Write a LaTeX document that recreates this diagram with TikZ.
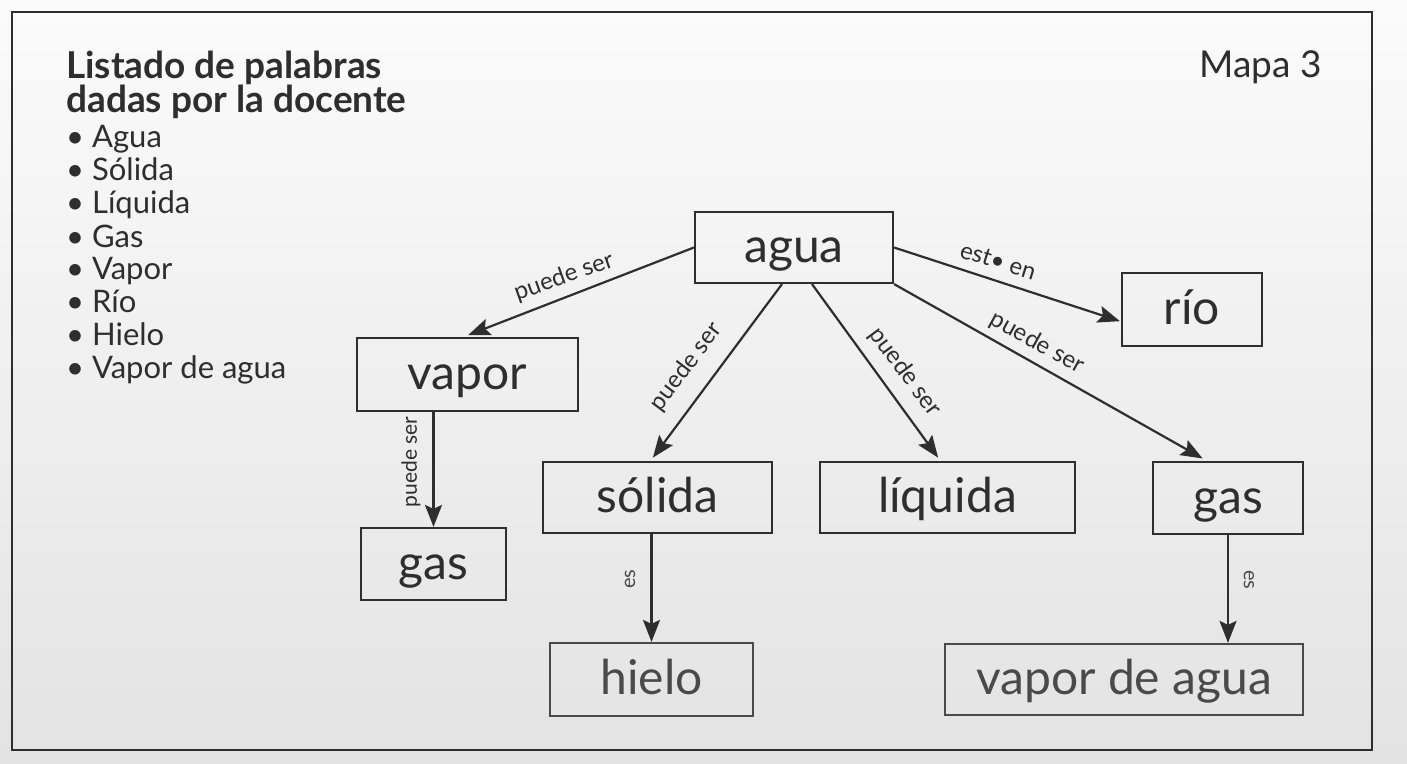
\documentclass[tikz,border=0pt]{standalone}
\usepackage{fontspec}
\setmainfont{Lato}
\usetikzlibrary{arrows.meta,calc}
\definecolor{ink}{HTML}{2E2E2E}
\definecolor{inkb}{HTML}{4A4A4A}
\begin{document}
\begin{tikzpicture}[x=1pt,y=-1pt,
  box/.style={draw=ink,line width=2.2pt,inner sep=0pt,text=ink,
    font=\fontsize{48}{52}\selectfont,text height=30pt,text depth=0pt},
  boxb/.style={box,draw=inkb,text=inkb},
  arr/.style={draw=ink,line width=2.2pt,-{Stealth[length=22pt,width=17pt,inset=4pt]}},
  lab/.style={font=\fontsize{24}{26}\selectfont,text=ink,inner sep=0pt},
  small/.style={font=\fontsize{20}{22}\selectfont,text=inkb,inner sep=0pt},
  head/.style={anchor=base west,inner sep=0pt,text=ink,font=\bfseries\fontsize{37}{39}\selectfont},
  item/.style={anchor=base west,inner sep=0pt,text=ink,font=\fontsize{31}{33}\selectfont}]
\shade[top color=gray!3,bottom color=gray!22] (0,0) rectangle (1407,763);
\useasboundingbox (0,0) rectangle (1407,763);
\draw[ink,line width=2.2pt] (12,12) rectangle (1372,750);

% word list
\node[head] (t1) at (66,78) {Listado de palabras};
\node[head] (t2) at (66,112) {dadas por la docente};
\node[item] (i1) at (66,147) {• Agua};
\node[item] (i2) at (66,180) {• Sólida};
\node[item] (i3) at (66,213) {• Líquida};
\node[item] (i4) at (66,247) {• Gas};
\node[item] (i5) at (66,279) {• Vapor};
\node[item] (i6) at (66,312) {• Río};
\node[item] (i7) at (66,345) {• Hielo};
\node[item] (i8) at (66,378) {• Vapor de agua};
\node[anchor=base west,inner sep=0pt,text=ink,font=\fontsize{37}{39}\selectfont] (mapa) at (1199,77) {Mapa 3};

% boxes
\node[box,minimum width=198pt,minimum height=71pt] (agua) at (794,247.5) {agua};
\node[box,minimum width=140pt,minimum height=73pt] (rio) at (1192,309.5) {río};
\node[box,minimum width=221pt,minimum height=73pt] (vapor) at (467.5,374.5) {vapor};
\node[box,minimum width=229pt,minimum height=71pt] (solida) at (657.5,497.5) {sólida};
\node[box,minimum width=255pt,minimum height=71pt] (liquida) at (947.5,497.5) {líquida};
\node[box,minimum width=150pt,minimum height=72pt] (gasR) at (1228,498) {gas};
\node[box,minimum width=145pt,minimum height=72pt] (gasL) at (433.5,564) {gas};
\node[boxb,minimum width=203pt,minimum height=73pt] (hielo) at (651.5,679.5) {hielo};
\node[boxb,minimum width=358pt,minimum height=71pt] (vda) at (1124,679.5) {vapor de agua};

% connectors
\draw[arr,shorten >=5pt] (agua.west) -- ([xshift=-4pt]vapor.north);
\draw[arr,shorten >=4pt] ([xshift=-12pt]agua.south) -- ([xshift=-7pt]solida.north);
\draw[arr,shorten >=4pt] ([xshift=18pt]agua.south) -- ([xshift=-7pt]liquida.north);
\draw[arr,shorten >=5pt] (agua.south east) -- ([xshift=-21pt]gasR.north);
\draw[arr,shorten >=1pt] (agua.east) -- ([yshift=-12pt]rio.west);
\draw[arr] (gasL.north |- vapor.south) -- (gasL.north);
\draw[arr] (hielo.north |- solida.south) -- (hielo.north);
\draw[arr] (gasR.south) -- (gasR.south |- vda.north);

% labels
\node[lab,rotate=19.5] (l1) at (564,277) {puede ser};
\node[lab,rotate=52.8] (l2) at (686,367) {puede ser};
\node[lab,rotate=-53.7] (l3) at (905,372) {puede ser};
\node[lab,rotate=-28.9] (l4) at (1037,343) {puede ser};
\node[lab,rotate=-17.3] (l5) at (998,261) {est• en};
\node[lab,rotate=90,font=\fontsize{21}{23}\selectfont] (l6) at (411,462) {puede ser};
\node[small,rotate=90] (l7) at (630,579) {es};
\node[small,rotate=-90] (l8) at (1249,580) {es};
\end{tikzpicture}
\end{document}
